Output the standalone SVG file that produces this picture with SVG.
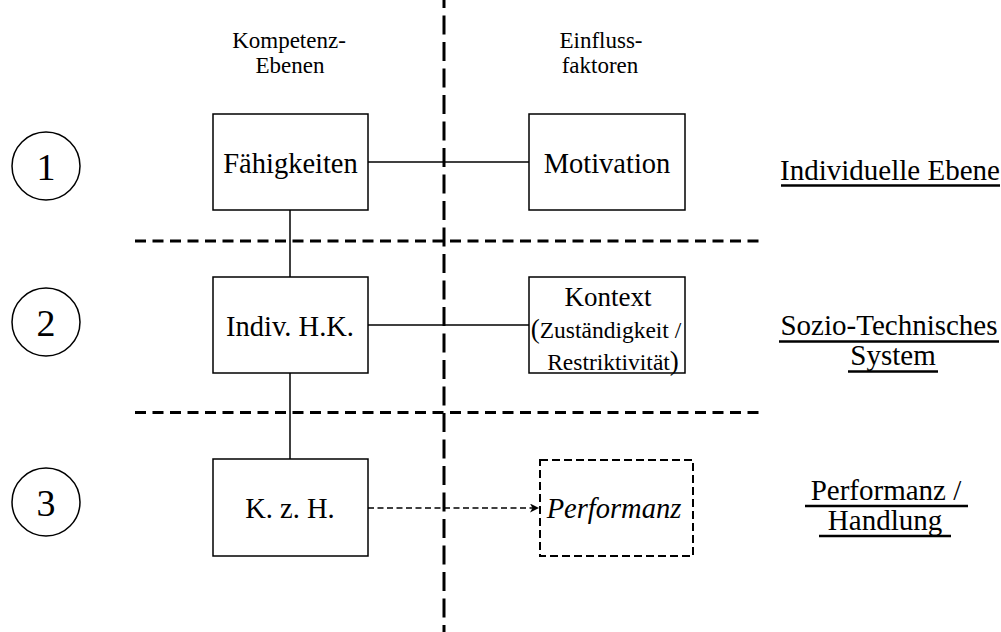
<svg xmlns="http://www.w3.org/2000/svg" width="1001" height="632" viewBox="0 0 1001 632">
  <style>
    text { font-family: 'Liberation Serif', 'Times New Roman', serif; fill: #000; }
    .head { font-size: 23px; text-anchor: middle; }
    .lbl { font-size: 28.5px; text-anchor: middle; }
    .ctx { font-size: 27px; text-anchor: middle; }
    .num { font-size: 38px; text-anchor: middle; }
    .side { font-size: 29px; text-anchor: middle; }
    .small { font-size: 23.5px; }
    .box { fill: #fff; stroke: #000; stroke-width: 1.5; }
    .dbox { fill: #fff; stroke: #000; stroke-width: 2; stroke-dasharray: 8 4; }
    .ring { fill: #fff; stroke: #000; stroke-width: 1.5; }
    .link { stroke: #000; stroke-width: 1.5; fill: none; }
    .dlink { stroke: #000; stroke-width: 1.3; fill: none; stroke-dasharray: 6 3.5; }
    .sep-v { stroke: #000; stroke-width: 3; stroke-dasharray: 19 7.5; }
    .sep-h { stroke: #000; stroke-width: 3; stroke-dasharray: 11 6.5; }
    .ul { stroke: #000; stroke-width: 2.5; }
  </style>
  <defs>
    <marker id="arrow" markerWidth="11" markerHeight="10" refX="9" refY="4.5" orient="auto" markerUnits="userSpaceOnUse">
      <path d="M0,0 L9,4.5 L0,9 L2.5,4.5 Z" fill="#000"/>
    </marker>
  </defs>

  <!-- column / level separators -->
  <g id="separators">
    <line class="sep-v" x1="444" y1="-11" x2="444" y2="632"/>
    <line class="sep-h" x1="135" y1="241" x2="760" y2="241"/>
    <line class="sep-h" x1="135" y1="412.5" x2="760" y2="412.5"/>
  </g>

  <!-- column headings -->
  <g id="headings">
    <text class="head" x="289" y="48">Kompetenz-</text>
    <text class="head" x="290" y="73">Ebenen</text>
    <text class="head" x="601" y="48">Einfluss-</text>
    <text class="head" x="600" y="73">faktoren</text>
  </g>

  <!-- connectors -->
  <g id="connectors">
    <line class="link" x1="368" y1="162" x2="529" y2="162"/>
    <line class="link" x1="290" y1="210" x2="290" y2="277"/>
    <line class="link" x1="368" y1="325" x2="529" y2="325"/>
    <line class="link" x1="290" y1="373" x2="290" y2="459"/>
    <line class="dlink" x1="368" y1="508" x2="539" y2="508" marker-end="url(#arrow)"/>
  </g>

  <!-- level numbers -->
  <g id="level-1"><circle class="ring" cx="46" cy="166" r="34"/><text class="num" x="46" y="180">1</text></g>
  <g id="level-2"><circle class="ring" cx="46" cy="322" r="34"/><text class="num" x="46" y="336">2</text></g>
  <g id="level-3"><circle class="ring" cx="46" cy="502" r="34"/><text class="num" x="46" y="516">3</text></g>

  <!-- competence levels -->
  <g id="faehigkeiten">
    <rect class="box" x="213" y="114" width="155" height="96"/>
    <text class="lbl" x="290.5" y="173">Fähigkeiten</text>
  </g>
  <g id="indiv-hk">
    <rect class="box" x="213" y="277" width="155" height="96"/>
    <text class="lbl" x="290" y="336">Indiv. H.K.</text>
  </g>
  <g id="kzh">
    <rect class="box" x="213" y="459" width="155" height="97"/>
    <text class="lbl" x="290" y="518">K. z. H.</text>
  </g>

  <!-- influence factors -->
  <g id="motivation">
    <rect class="box" x="529" y="114" width="156" height="96"/>
    <text class="lbl" x="607" y="173">Motivation</text>
  </g>
  <g id="kontext">
    <rect class="box" x="529" y="277" width="156" height="96"/>
    <text class="ctx" x="608" y="306">Kontext</text>
    <text class="ctx" x="606" y="338"><tspan>(</tspan><tspan class="small">Zuständigkeit /</tspan></text>
    <text class="ctx" x="613" y="370"><tspan class="small">Restriktivität</tspan><tspan>)</tspan></text>
  </g>
  <g id="performanz">
    <rect class="dbox" x="540" y="460" width="153" height="96"/>
    <text class="lbl" x="614" y="518" font-style="italic" font-size="29">Performanz</text>
  </g>

  <!-- level names -->
  <g id="side-labels">
    <text class="side" x="890" y="180">Individuelle Ebene</text>
    <line class="ul" x1="781" y1="185.5" x2="1000" y2="185.5"/>
    <text class="side" x="889" y="335">Sozio-Technisches</text>
    <line class="ul" x1="779" y1="341.5" x2="999" y2="341.5"/>
    <text class="side" x="893" y="365">System</text>
    <line class="ul" x1="848" y1="371.5" x2="938" y2="371.5"/>
    <text class="side" x="886" y="500">Performanz /</text>
    <line class="ul" x1="805" y1="506" x2="968" y2="506"/>
    <text class="side" x="885" y="530">Handlung</text>
    <line class="ul" x1="819" y1="536" x2="951" y2="536"/>
  </g>
</svg>
